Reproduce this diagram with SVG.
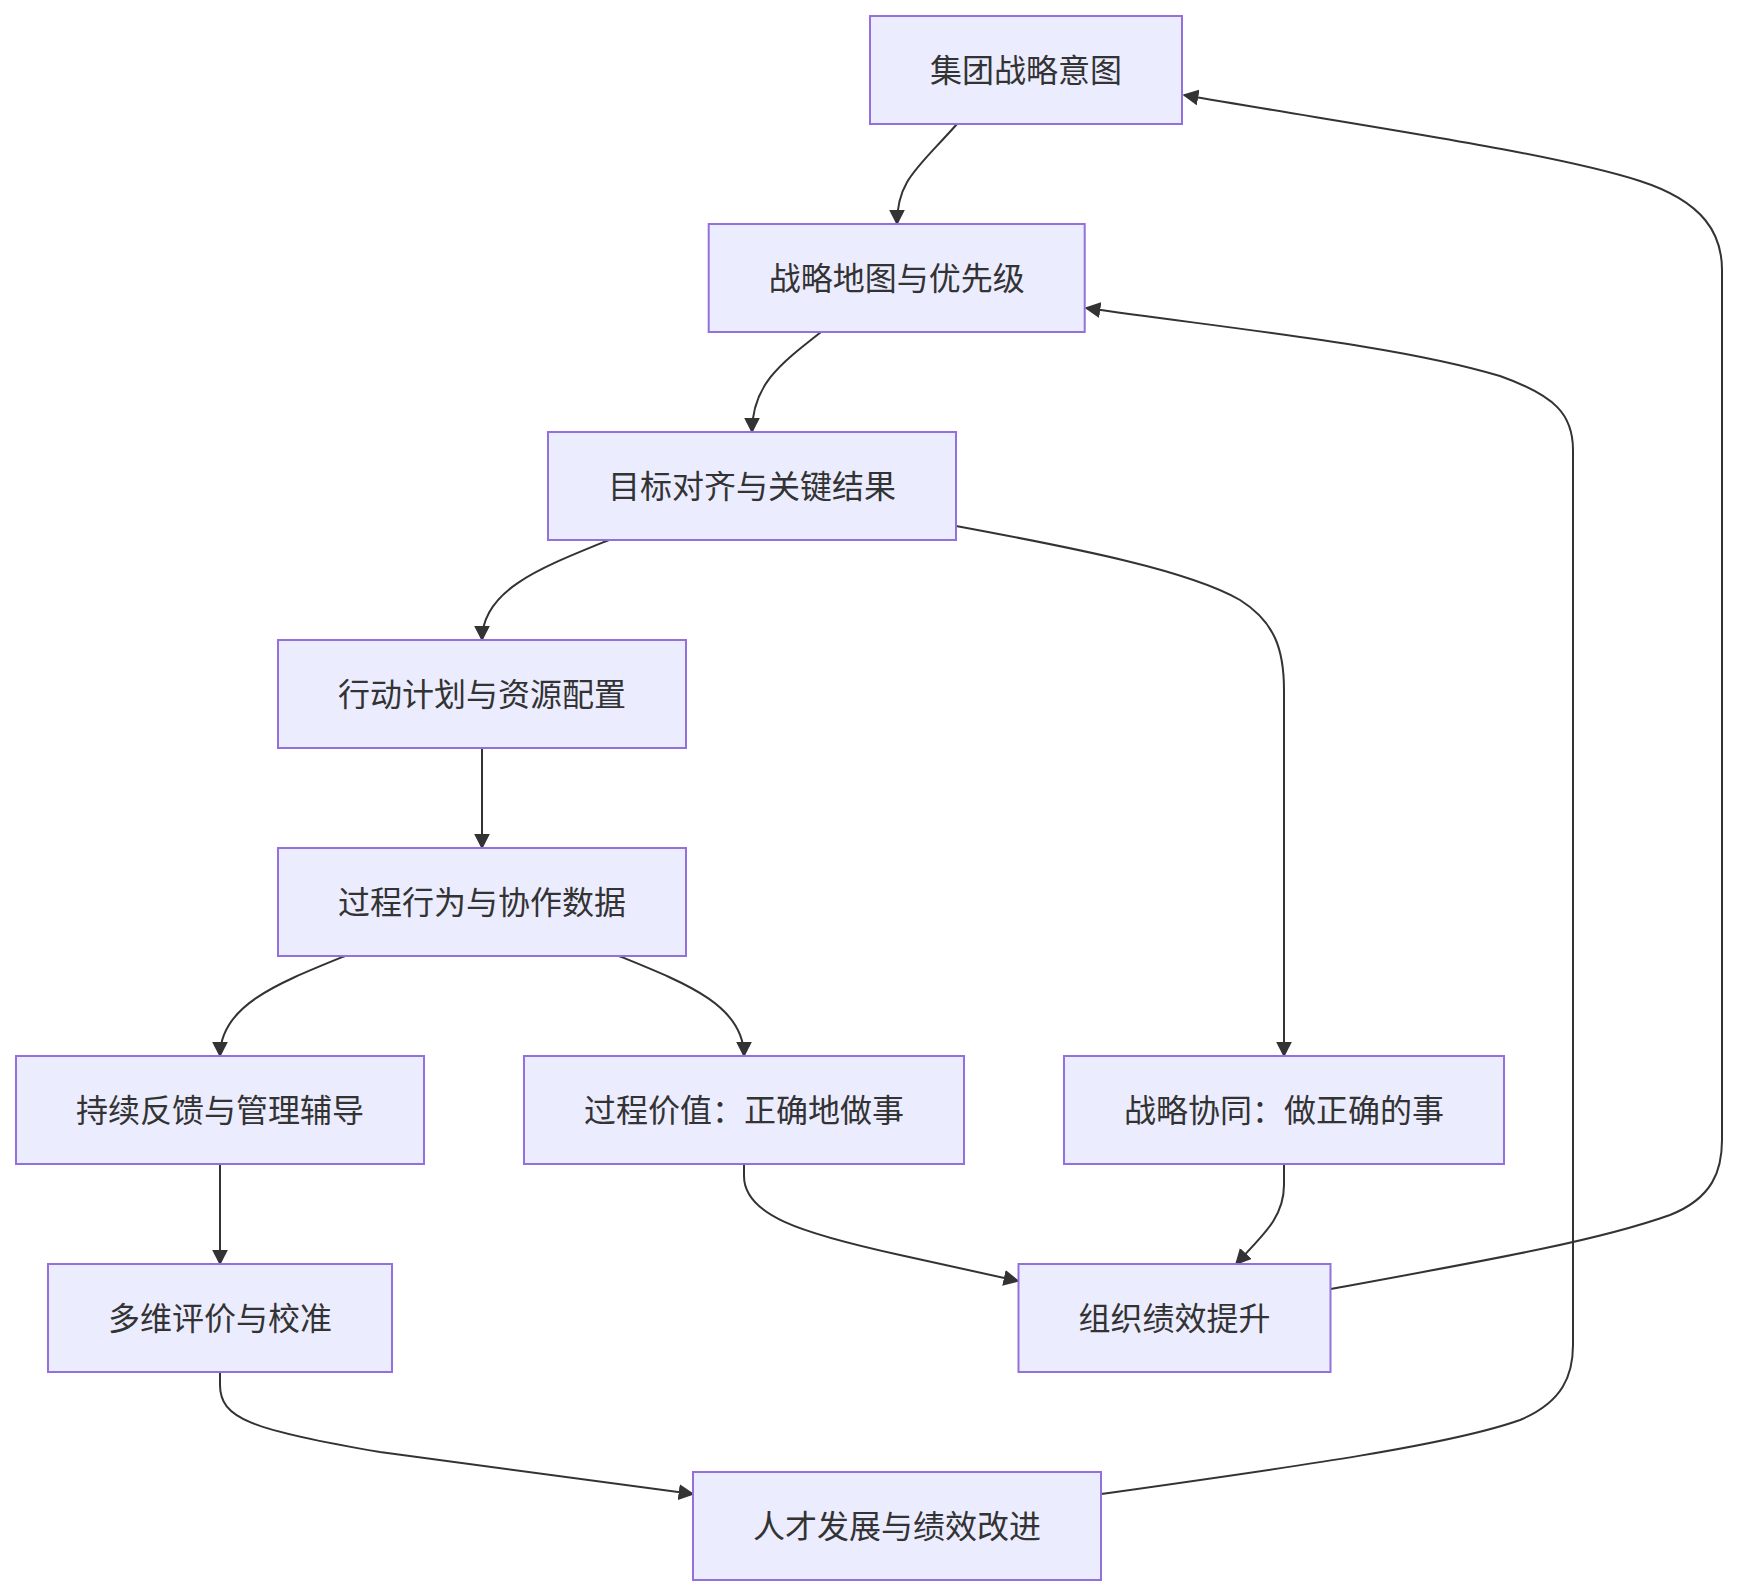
<svg xmlns="http://www.w3.org/2000/svg" width="1739" height="1596" viewBox="0 0 1739 1596">
<defs>
<style>
.node rect{fill:#ECECFF;stroke:#9370DB;stroke-width:2px;}
.node text{font-family:"Noto Sans CJK SC","Noto Sans",sans-serif;font-size:32px;fill:#333;text-anchor:middle;dominant-baseline:central;}
.edge{fill:none;stroke:#333;stroke-width:2px;marker-end:url(#arrow);}
</style>
<marker id="arrow" viewBox="0 0 10 10" refX="9" refY="5" markerUnits="userSpaceOnUse" markerWidth="16" markerHeight="16" orient="auto">
<path d="M0,0 L10,5 L0,10 z" fill="#333"/>
</marker>
</defs>
<rect width="1739" height="1596" fill="#fff"/>
<g id="edges">
<path class="edge" d="M957,124 C918,168 897,180 897,224"/>
<path class="edge" d="M821,332 C780,364 752,385 752,432"/>
<path class="edge" d="M609,540 C540,568 482,590 482,640"/>
<path class="edge" d="M956,526 C1080,549 1190,571 1240,600 C1275,622 1284,650 1284,690 L1284,1056"/>
<path class="edge" d="M482,748 L482,848"/>
<path class="edge" d="M345,956 C276,984 220,1006 220,1056"/>
<path class="edge" d="M619,956 C688,984 744,1006 744,1056"/>
<path class="edge" d="M220,1164 L220,1264"/>
<path class="edge" d="M744,1164 L744,1176 C744,1215 800,1233 900,1255 L1018,1281"/>
<path class="edge" d="M1284,1164 L1284,1185 C1284,1218 1262,1236 1236,1264"/>
<path class="edge" d="M220,1372 L220,1385 C220,1418 250,1430 380,1452 L693,1494"/>
<path class="edge" d="M1331,1289 C1500,1258 1600,1240 1670,1215 C1713,1198 1722,1170 1722,1140 L1722,270 C1722,235 1705,202 1640,181 C1550,152 1350,124 1184,95"/>
<path class="edge" d="M1101,1494 C1300,1466 1450,1445 1520,1420 C1563,1402 1573,1375 1573,1345 L1573,450 C1573,415 1556,396 1500,376 C1400,346 1250,331 1086,308"/>
</g>
<g id="n1" class="node"><rect x="870" y="16" width="312" height="108"/><text x="1026" y="68">集团战略意图</text></g>
<g id="n2" class="node"><rect x="708.7" y="224" width="376" height="108"/><text x="896.7" y="276">战略地图与优先级</text></g>
<g id="n3" class="node"><rect x="548" y="432" width="408" height="108"/><text x="752" y="484">目标对齐与关键结果</text></g>
<g id="n4" class="node"><rect x="278" y="640" width="408" height="108"/><text x="482" y="692">行动计划与资源配置</text></g>
<g id="n5" class="node"><rect x="278" y="848" width="408" height="108"/><text x="482" y="900">过程行为与协作数据</text></g>
<g id="n6" class="node"><rect x="16" y="1056" width="408" height="108"/><text x="220" y="1108">持续反馈与管理辅导</text></g>
<g id="n7" class="node"><rect x="524" y="1056" width="440" height="108"/><text x="744" y="1108">过程价值：正确地做事</text></g>
<g id="n8" class="node"><rect x="1064" y="1056" width="440" height="108"/><text x="1284" y="1108">战略协同：做正确的事</text></g>
<g id="n9" class="node"><rect x="48" y="1264" width="344" height="108"/><text x="220" y="1316">多维评价与校准</text></g>
<g id="n10" class="node"><rect x="1018.5" y="1264" width="312" height="108"/><text x="1174.5" y="1316">组织绩效提升</text></g>
<g id="n11" class="node"><rect x="693" y="1472" width="408" height="108"/><text x="897" y="1524">人才发展与绩效改进</text></g>
</svg>
